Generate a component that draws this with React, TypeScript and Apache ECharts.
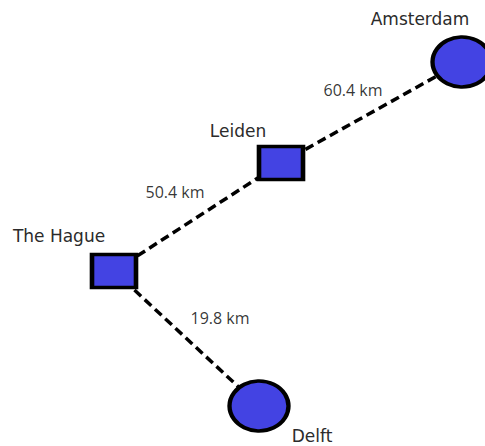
import React, { useEffect, useRef } from "react";
import * as echarts from "echarts";

// Node data (positions in a 485 x 446 map space, y pointing down)
const cities = ["Amsterdam", "Leiden", "The Hague", "Delft"];
const cityX = [462, 281, 114, 259];
const cityY = [62, 163, 271, 406];
const cityShape = ["ellipse", "rect", "rect", "ellipse"];

// Edge data
const edgeFrom = ["Leiden", "The Hague", "The Hague"];
const edgeTo = ["Amsterdam", "Leiden", "Delft"];
const edgeKm = [60.4, 50.4, 19.8];

// styling (not data)
const nodeLabelOffsets: Record<string, [number, number]> = {
  Amsterdam: [-42, -43],
  Leiden: [-43, -32],
  "The Hague": [-55, -35],
  Delft: [53, 30],
};
const edgeLabelOffsets: [number, number][] = [
  [-18.5, -22.5],
  [-22.5, -25],
  [33.5, -20.5],
];

export default function App() {
  const ref = useRef<HTMLDivElement>(null);
  useEffect(() => {
    document.body.style.margin = "0";
    if (!ref.current) return;
    const chart = echarts.init(ref.current, null, { renderer: "svg" });
    const idx = (n: string) => cities.indexOf(n);

    const nodes = cities.map((c, i) => ({
      name: c,
      value: [cityX[i], cityY[i]],
      symbol: cityShape[i] === "rect" ? "rect" : "circle",
      symbolSize: cityShape[i] === "rect" ? [44, 33] : [59, 50],
      label: { offset: nodeLabelOffsets[c] },
    }));
    const links = edgeFrom.map((f, i) => ({ source: f, target: edgeTo[i] }));
    const edgeLabelPts = edgeFrom.map((f, i) => {
      const a = idx(f);
      const b = idx(edgeTo[i]);
      return {
        value: [(cityX[a] + cityX[b]) / 2, (cityY[a] + cityY[b]) / 2],
        km: edgeKm[i],
        label: { offset: edgeLabelOffsets[i] },
      };
    });

    chart.setOption({
      animation: false,
      backgroundColor: "#ffffff",
      grid: { left: 0, right: 0, top: 0, bottom: 0 },
      xAxis: { type: "value", min: 0, max: 485, show: false },
      yAxis: { type: "value", min: 0, max: 446, inverse: true, show: false },
      series: [
        {
          type: "graph",
          coordinateSystem: "cartesian2d",
          layout: "none",
          roam: false,
          silent: true,
          data: nodes,
          links,
          edgeSymbol: ["none", "none"],
          z: 2,
          lineStyle: { color: "#000", width: 3.5, type: [9, 5], opacity: 1, curveness: 0 },
          itemStyle: { color: "#4343e3", borderColor: "#000", borderWidth: 4 },
          label: {
            show: true,
            position: "inside",
            fontFamily: "DejaVu Sans",
            fontSize: 17,
            color: "#2b2b2b",
            formatter: "{b}",
          },
        },
        {
          type: "scatter",
          silent: true,
          symbolSize: 0,
          itemStyle: { color: "transparent" },
          data: edgeLabelPts,
          z: 3,
          label: {
            show: true,
            position: "inside",
            fontFamily: "Open Sans",
            fontSize: 16,
            color: "#000",
            textBorderWidth: 0,
            formatter: (p: any) => `${p.data.km} km`,
          },
        },
      ],
    });
    return () => chart.dispose();
  }, []);
  return <div ref={ref} style={{ width: 485, height: 446 }} />;
}
